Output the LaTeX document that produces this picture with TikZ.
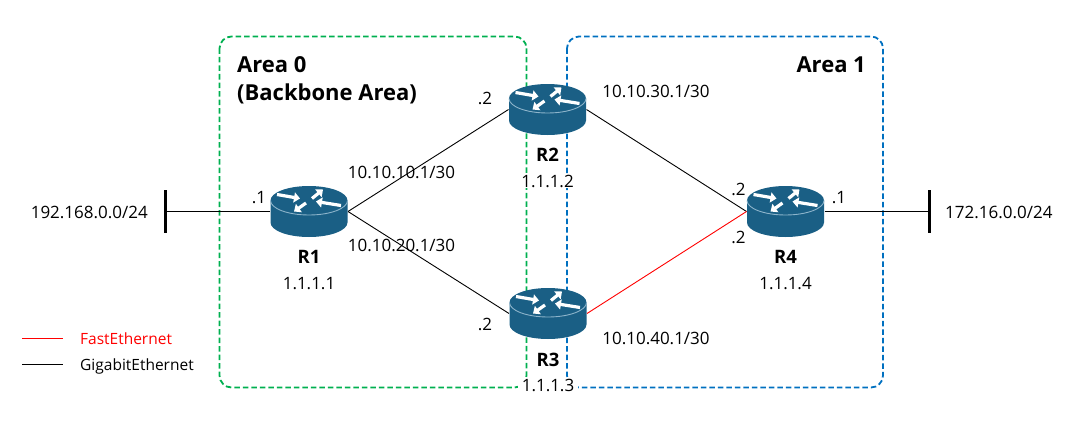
\documentclass[tikz,border=0pt]{standalone}
\usepackage{fontspec}
\setmainfont{Open Sans}
\usetikzlibrary{arrows.meta,calc}
\definecolor{routerblue}{HTML}{1A5F85}
\definecolor{rimblue}{HTML}{8DB4CB}
\definecolor{areagreen}{HTML}{00B050}
\definecolor{areablue}{HTML}{0070C0}
\tikzset{
  areabox/.style={line width=1.8pt, dash pattern=on 5.5pt off 3pt, rounded corners=12pt},
  rarrow/.style={white, line width=3.2pt, -{Triangle[length=6pt,width=10pt]}},
  router/.style={minimum width=78pt, minimum height=52pt, inner sep=0pt, outer sep=0pt,
    path picture={
      \begin{scope}[shift={(path picture bounding box.center)}]
        \fill[routerblue] (-38.5,-11) -- (-38.5,11)
          arc[start angle=180, end angle=0, x radius=38.5, y radius=14.5]
          -- (38.5,-11)
          arc[start angle=0, end angle=-180, x radius=38.5, y radius=14.5] -- cycle;
        \draw[rimblue, line width=0.9pt] (-38.5,-11)
          arc[start angle=180, end angle=0, x radius=38.5, y radius=14.5];
        \draw[rarrow] (-32,-17) -- (-9,-13);
        \draw[rarrow] (32,-6) -- (7,-10);
        \draw[rarrow] (3,-13) -- (14,-22);
        \draw[rarrow] (-3,-8.5) -- (-15,0);
      \end{scope}
    }},
  netbar/.style={fill=black, minimum width=3pt, minimum height=43pt, inner sep=0pt, outer sep=0pt},
  link/.style={line width=0.9pt, black},
  lbl/.style={font=\fontsize{17}{20}\selectfont, inner sep=1pt},
  rname/.style={font=\fontsize{18.5}{22}\selectfont\bfseries, fill=white, inner sep=1pt},
  ipname/.style={font=\fontsize{17}{20}\selectfont, fill=white, inner xsep=4pt, inner ysep=1pt},
  areaname/.style={font=\fontsize{22}{26}\selectfont\bfseries, inner sep=0pt},
  legend/.style={font=\fontsize{15.5}{18}\selectfont, inner sep=1pt},
}
\begin{document}
\begin{tikzpicture}[x=1pt,y=-1pt]
\useasboundingbox (0,0) rectangle (1084,428);
% areas
\draw[areabox, areagreen] (219.5,36.5) rectangle (526.5,387.5);
\draw[areabox, areablue] (567,36.5) rectangle (883,387.5);
\node[areaname, anchor=base west] (a0) at (237,72.5) {Area 0};
\node[areaname, anchor=base west] (a0b) at (237,100.5) {(Backbone Area)};
\node[areaname, anchor=base east] (a1) at (866,72) {Area 1};
% routers
\node[router] (R1) at (309,211.5) {};
\node[router] (R2) at (547.5,109.5) {};
\node[router] (R3) at (548,313.5) {};
\node[router] (R4) at (785.5,211.5) {};
% network bars
\node[netbar] (bL) at (165,211.5) {};
\node[netbar] (bR) at (929,211.5) {};
% links
\draw[link] (R1.west) -- (bL);
\draw[link] (R1.east) -- (R2.west);
\draw[link] (R1.east) -- (R3.west);
\draw[link] (R2.east) -- (R4.west);
\draw[link, red] (R3.east) -- (R4.west);
\draw[link] (R4.east) -- (bR);
% router names
\node[rname, anchor=base] (R1n) at (309,263) {R1};
\node[ipname, anchor=base] (R1ip) at (309,289) {1.1.1.1};
\node[rname, anchor=base] (R2n) at (547.5,161) {R2};
\node[ipname, anchor=base] (R2ip) at (547.5,187) {1.1.1.2};
\node[rname, anchor=base] (R3n) at (548,366) {R3};
\node[ipname, anchor=base] (R3ip) at (548,391) {1.1.1.3};
\node[rname, anchor=base] (R4n) at (785.5,263) {R4};
\node[ipname, anchor=base] (R4ip) at (785.5,289) {1.1.1.4};
% address labels
\node[lbl, anchor=base east] (netL) at (149,218.5) {192.168.0.0/24};
\node[lbl, anchor=base west] (netR) at (944,218.5) {172.16.0.0/24};
\node[lbl, anchor=base] (p1) at (259,203.5) {.1};
\node[lbl, anchor=base] (s12) at (401.5,178.5) {10.10.10.1/30};
\node[lbl, anchor=base] (s13) at (401.5,251.5) {10.10.20.1/30};
\node[lbl, anchor=base] (p2) at (485,104) {.2};
\node[lbl, anchor=base] (p3) at (485,330) {.2};
\node[lbl, anchor=base] (s24) at (656,97.5) {10.10.30.1/30};
\node[lbl, anchor=base] (s34) at (656,344) {10.10.40.1/30};
\node[lbl, anchor=base] (p4a) at (738.5,195) {.2};
\node[lbl, anchor=base] (p4b) at (738.5,243) {.2};
\node[lbl, anchor=base] (p4c) at (839,203.3) {.1};
% legend
\coordinate (lgA1) at (22,338);
\coordinate (lgA2) at (63,338);
\coordinate (lgB1) at (22,364.5);
\coordinate (lgB2) at (63,364.5);
\draw[red, line width=0.9pt] (lgA1) -- (lgA2);
\draw[black, line width=0.9pt] (lgB1) -- (lgB2);
\node[legend, red, anchor=base west] (lgA) at (79,344.3) {FastEthernet};
\node[legend, anchor=base west] (lgB) at (79,370) {GigabitEthernet};
\end{tikzpicture}
\end{document}
